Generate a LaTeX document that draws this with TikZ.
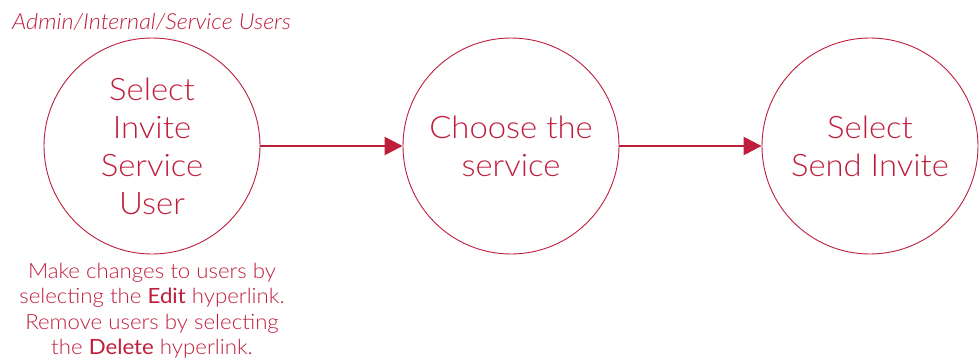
\documentclass[tikz,border=0pt]{standalone}
\usepackage{fontspec}
\setmainfont{Lato Light}[BoldFont=Lato, ItalicFont=Lato Light Italic, FakeStretch=1.06]
\usetikzlibrary{arrows.meta}
\definecolor{crim}{RGB}{190,30,60}
\begin{document}
\begin{tikzpicture}[x=1pt,y=-1pt]
\tikzset{
  stepc/.style={circle,draw=crim,line width=0.9pt,minimum size=216pt,inner sep=0pt,text=crim,align=center,font=\fontsize{31}{38}\selectfont},
  flow/.style={draw=crim,line width=2.6pt,-{Triangle[length=18pt,width=18pt]}},
  lbl/.style={text=crim,inner sep=0pt}
}
\useasboundingbox (0,0) rectangle (980,361);
\node[stepc] (s1) at (152,146) {Select\\Invite\\Service\\User};
\node[stepc] (s2) at (511,146) {Choose the\\service};
\node[stepc] (s3) at (870,146) {Select\\Send Invite};
\draw[flow] (s1) -- (s2);
\draw[flow] (s2) -- (s3);
\node[lbl,anchor=base west,font=\fontsize{22.1}{25}\selectfont\itshape] (hdr) at (12,30) {Admin/Internal/Service Users};
\node[lbl,anchor=north,align=center,font=\fontsize{21}{25.3}\selectfont] (note) at (152,263)
  {Make changes to users by\\selecting the \textbf{Edit} hyperlink.\\Remove users by selecting\\the \textbf{Delete} hyperlink.};
\end{tikzpicture}
\end{document}
